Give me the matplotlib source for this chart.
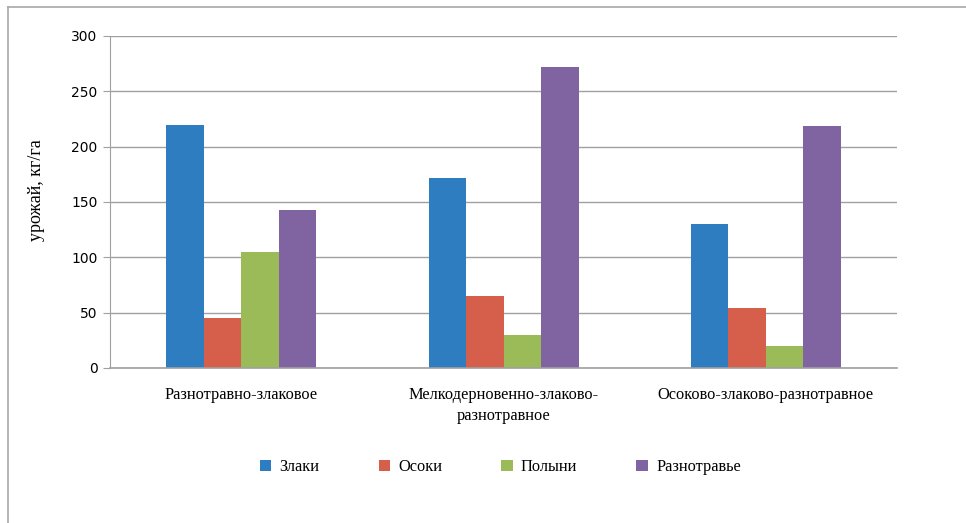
import numpy as np
import matplotlib.pyplot as plt
from matplotlib.lines import Line2D

# данные
categories = ["Разнотравно-злаковое", "Мелкодерновенно-злаково-\nразнотравное", "Осоково-злаково-разнотравное"]
series_names = ["Злаки", "Осоки", "Полыни", "Разнотравье"]
zlaki = [220, 172, 130]
osoki = [45, 65, 54]
polyni = [105, 30, 20]
raznotravie = [143, 272, 219]
colors = ["#2F7DC1", "#D55F4A", "#9BBB59", "#8064A2"]
yticks = [0, 50, 100, 150, 200, 250, 300]

values = [zlaki, osoki, polyni, raznotravie]

fig = plt.figure(figsize=(9.66, 5.23), dpi=100)
ax = fig.add_axes([0.1139, 0.2964, 0.8147, 0.6348])

x = np.arange(len(categories))
w = 0.143
for i, (name, vals) in enumerate(zip(series_names, values)):
    ax.bar(x + (i - 1.5) * w, vals, width=w, color=colors[i], label=name, zorder=3)

ax.set_xlim(-0.5, len(categories) - 0.5)
ax.set_ylim(0, 300)
ax.set_yticks(yticks)
ax.set_yticklabels([str(t) for t in yticks], fontfamily="DejaVu Sans", fontsize=10)
ax.yaxis.grid(True, color="#A0A0A0", linewidth=1, zorder=0)
ax.axhline(0, color="#A0A0A0", linewidth=1.2, zorder=4, clip_on=False)
ax.tick_params(axis="y", length=5, color="#A0A0A0", pad=4)
ax.tick_params(axis="x", length=0, pad=14)
ax.set_xticks(x)
ax.set_xticklabels(categories, fontfamily="Liberation Serif", fontsize=11.8, linespacing=1.35, va="top")
for s in ["top", "right", "bottom"]:
    ax.spines[s].set_visible(False)
ax.spines["left"].set_color("#A0A0A0")
ax.set_ylabel("урожай, кг/га", fontfamily="Liberation Serif", fontsize=13)
ax.yaxis.set_label_coords(-0.083, 0.535)

fig.legend(loc="center", bbox_to_anchor=(0.518, 0.107), ncol=4, frameon=False,
           prop={"family": "Liberation Serif", "size": 11.8}, handlelength=0.7,
           handleheight=0.7, handletextpad=0.5, columnspacing=3.6)

# рамка
fig.add_artist(Line2D([8 / 966, 1.0], [1 - 7 / 523, 1 - 7 / 523], color="#A8A8A8", lw=1.2))
fig.add_artist(Line2D([8 / 966, 8 / 966], [0, 1 - 7 / 523], color="#A8A8A8", lw=1.2))

fig.savefig("out.png", dpi=100)
